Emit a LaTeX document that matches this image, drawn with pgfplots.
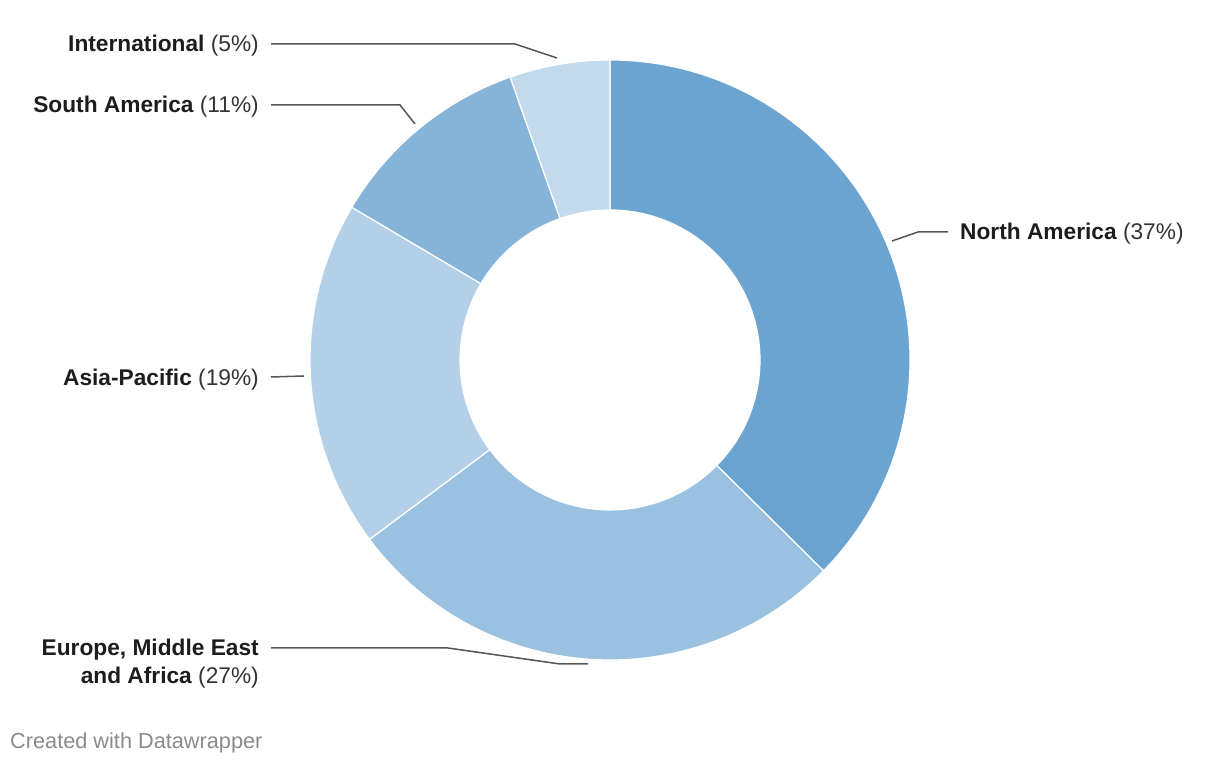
\documentclass[border=0pt]{standalone}
\usepackage{pgfplots}
\pgfplotsset{compat=1.18}
\usepackage{pgfplotstable}
\usepackage{fontspec}
\setmainfont{Liberation Sans}

\definecolor{c0}{HTML}{6CA4D1}
\definecolor{c1}{HTML}{9BC1E0}
\definecolor{c2}{HTML}{B3D0E8}
\definecolor{c3}{HTML}{86B4D9}
\definecolor{c4}{HTML}{C2D9EE}
\definecolor{lead}{HTML}{555555}
\definecolor{lab}{HTML}{1D1D1D}
\definecolor{pct}{HTML}{333333}
\definecolor{foot}{HTML}{8A8A8A}

\pgfplotstableread{
name value
NorthAmerica 37.4
EMEA 27.4
AsiaPacific 18.7
SouthAmerica 11.1
International 5.4
}\shares

\newcommand{\lbl}[2]{{\fontsize{22.8}{27}\selectfont\color{lab}\bfseries #1\color{pct}\mdseries\ (#2\%)}}

\begin{document}
\begin{tikzpicture}
\begin{axis}[
  x=1bp, y=1bp,
  xmin=0, xmax=1220, ymin=0, ymax=766,
  hide axis, clip=false,
]
\addplot[draw=none, mark=none] coordinates {(0,0) (1220,766)};
\def\cum{0}
\pgfplotsforeachungrouped \i in {0,...,4}{%
  \pgfplotstablegetelem{\i}{value}\of\shares
  \pgfmathsetmacro\a{90-3.6*\cum}%
  \pgfmathsetmacro\cum{\cum+\pgfplotsretval}%
  \pgfmathsetmacro\b{90-3.6*\cum}%
  \edef\tmp{\noexpand\fill[fill=c\i, draw=white, line width=1.2bp] (axis cs:610,406) ++(\a:300bp) arc[start angle=\a, end angle=\b, radius=300bp] -- ++(\b:-150bp) arc[start angle=\b, end angle=\a, radius=150bp] -- cycle;}%
  \tmp
}

% leader lines
\draw[lead, line width=1.5bp] (axis cs:271,722) -- (axis cs:515,722) -- (axis cs:557,708);
\draw[lead, line width=1.5bp] (axis cs:271,661) -- (axis cs:400,661) -- (axis cs:415,642);
\draw[lead, line width=1.5bp] (axis cs:271,389) -- (axis cs:304,390);
\draw[lead, line width=1.5bp] (axis cs:271,118) -- (axis cs:448,118) -- (axis cs:560,102) -- (axis cs:588,102);
\draw[lead, line width=1.5bp] (axis cs:892,525) -- (axis cs:918,534) -- (axis cs:948,534);

% labels
\node[anchor=base east, inner sep=0pt] at (axis cs:259,714) {\lbl{International}{5}};
\node[anchor=base east, inner sep=0pt] at (axis cs:259,653) {\lbl{South America}{11}};
\node[anchor=base east, inner sep=0pt] at (axis cs:259,380) {\lbl{Asia-Pacific}{19}};
\node[anchor=base east, inner sep=0pt] at (axis cs:259,110) {{\fontsize{22.8}{27}\selectfont\color{lab}\bfseries Europe, Middle East}};
\node[anchor=base east, inner sep=0pt] at (axis cs:259,82) {\lbl{and Africa}{27}};
\node[anchor=base west, inner sep=0pt] at (axis cs:960,526) {\lbl{North America}{37}};

\node[anchor=base west, inner sep=0pt] at (axis cs:10,17) {{\fontsize{21.8}{25}\selectfont\color{foot} Created with Datawrapper}};
\end{axis}
\end{tikzpicture}
\end{document}
